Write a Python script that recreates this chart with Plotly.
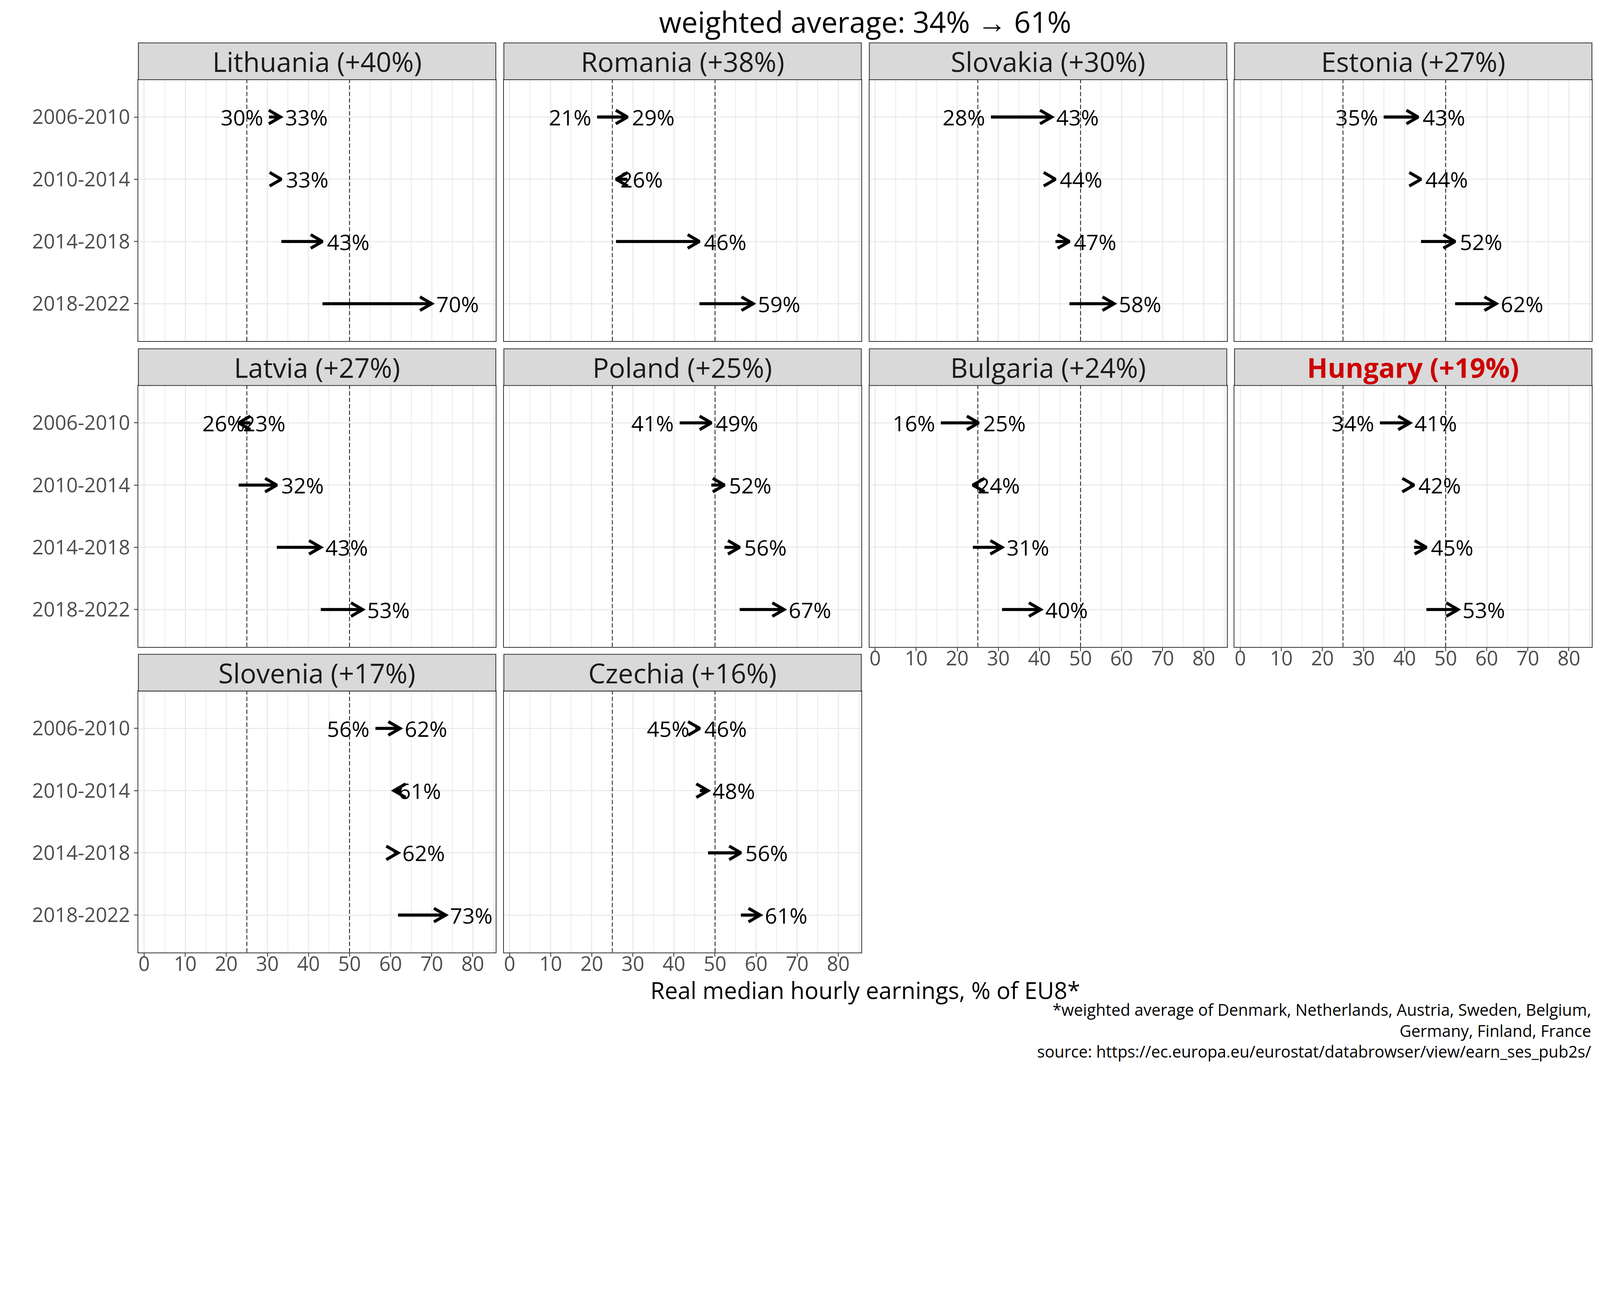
import math
import plotly.graph_objects as go

# ---------------- data ----------------
COUNTRIES = ["Lithuania", "Romania", "Slovakia", "Estonia", "Latvia",
             "Poland", "Bulgaria", "Hungary", "Slovenia", "Czechia"]
PERIODS = ["2006-2010", "2010-2014", "2014-2018", "2018-2022"]
# real median hourly earnings, % of EU8, at 2006, 2010, 2014, 2018, 2022
V2006 = [30.4, 21.3, 28.2, 34.9, 25.9, 41.4, 16.0, 34.0, 56.3, 45.2]
V2010 = [33.2, 28.7, 43.0, 43.3, 23.0, 49.1, 25.2, 41.3, 62.3, 46.3]
V2014 = [33.4, 25.9, 43.9, 44.0, 32.3, 52.3, 23.8, 42.3, 60.8, 48.3]
V2018 = [43.4, 46.2, 47.3, 52.3, 43.0, 56.0, 30.9, 45.3, 61.8, 56.3]
V2022 = [70.0, 59.3, 58.2, 62.3, 53.2, 66.8, 40.3, 53.0, 73.4, 61.0]
HIGHLIGHT = "Hungary"
REF_LINES = [25, 50]
X_TICKS = [0, 10, 20, 30, 40, 50, 60, 70, 80]
TITLE = "weighted average: 34% → 61%"
X_TITLE = "Real median hourly earnings, % of EU8*"
CAPTION = ["*weighted average of Denmark, Netherlands, Austria, Sweden, Belgium,",
           "Germany, Finland, France",
           "source: https://ec.europa.eu/eurostat/databrowser/view/earn_ses_pub2s/"]

# ---------------- geometry (in screenshot pixels) ----------------
DPR = 4960 / 4096          # device pixels per CSS pixel of the browser window
OFF = 8                    # default body margin (CSS px)
FIG_W, FIG_H = 4080, 2715  # figure size in CSS px

PANEL_W, PANEL_H, STRIP_H = 1108, 810, 114
COL_LEFT = [429, 1562, 2695, 3827]
ROW_TOP = [247, 1195, 2142]
NCOL = 4
X_RANGE = [-1.4, 85.6]
Y_RANGE = [3.6, -0.6]
FONT = "Open Sans"
GRID = "#EBEBEB"
BORDER = "#333333"


def fx(p):
    return (p / DPR - OFF) / FIG_W


def fy(p):
    return 1 - (p / DPR - OFF) / FIG_H


def s(v):
    """screenshot px -> css px"""
    return v / DPR


px_x = PANEL_W / (X_RANGE[1] - X_RANGE[0])
px_y = PANEL_H / abs(Y_RANGE[0] - Y_RANGE[1])
HEAD_LEN, HEAD_ANG = 42, math.radians(30)
HDX = HEAD_LEN * math.cos(HEAD_ANG) / px_x
HDY = HEAD_LEN * math.sin(HEAD_ANG) / px_y

fig = go.Figure()
shapes, annotations = [], []
n_panels = len(COUNTRIES)
dash = f"{s(13):.1f}px,{s(7):.1f}px"

for k, country in enumerate(COUNTRIES):
    r, c = divmod(k, NCOL)
    n = k + 1
    xa = "x" if n == 1 else f"x{n}"
    ya = "y" if n == 1 else f"y{n}"
    left, top = COL_LEFT[c], ROW_TOP[r]
    is_bottom = k + NCOL >= n_panels
    is_left = c == 0

    vals = [V2006[k], V2010[k], V2014[k], V2018[k], V2022[k]]
    starts, ends = vals[:-1], vals[1:]

    for ref in REF_LINES:
        fig.add_trace(go.Scatter(x=[ref, ref], y=[Y_RANGE[0], Y_RANGE[1]], mode="lines",
                                 line=dict(color="#1A1A1A", width=s(2.5), dash=dash),
                                 xaxis=xa, yaxis=ya, hoverinfo="skip", showlegend=False))

    ax_, ay_ = [], []
    for i, (st, e) in enumerate(zip(starts, ends)):
        sgn = 1 if e >= st else -1
        ax_ += [st, e, None, e - sgn * HDX, e, e - sgn * HDX, None]
        ay_ += [i, i, None, i - HDY, i, i + HDY, None]
    fig.add_trace(go.Scatter(x=ax_, y=ay_, mode="lines",
                             line=dict(color="black", width=s(9.5)),
                             xaxis=xa, yaxis=ya, hoverinfo="skip", showlegend=False))

    annotations.append(dict(x=starts[0] - 1.2, y=0, xref=xa, yref=ya, text=f"{starts[0]:.0f}%",
                            showarrow=False, xanchor="right", yanchor="middle",
                            font=dict(family=FONT, size=s(67), color="black")))
    for i, e in enumerate(ends):
        annotations.append(dict(x=e + 0.9, y=i, xref=xa, yref=ya, text=f"{e:.0f}%",
                                showarrow=False, xanchor="left", yanchor="middle",
                                font=dict(family=FONT, size=s(67), color="black")))

    fig.update_layout({
        ("xaxis" if n == 1 else f"xaxis{n}"): dict(
            domain=[fx(left), fx(left + PANEL_W)], anchor=ya, range=X_RANGE,
            tickmode="array", tickvals=X_TICKS, ticktext=[str(t) for t in X_TICKS],
            showgrid=True, gridcolor=GRID, gridwidth=s(4),
            minor=dict(dtick=5, tick0=5, showgrid=True, gridcolor=GRID, gridwidth=s(2)),
            zeroline=False, showline=True, mirror=True, linecolor=BORDER, linewidth=s(2.5),
            ticks="outside" if is_bottom else "", ticklen=s(11), tickwidth=s(2.5), tickcolor=BORDER,
            showticklabels=is_bottom, ticklabelstandoff=-25,
            tickfont=dict(family=FONT, size=s(62), color="#4D4D4D")),
        ("yaxis" if n == 1 else f"yaxis{n}"): dict(
            domain=[fy(top + PANEL_H), fy(top)], anchor=xa, range=Y_RANGE,
            tickmode="array", tickvals=list(range(len(PERIODS))), ticktext=PERIODS,
            showgrid=True, gridcolor=GRID, gridwidth=s(4),
            zeroline=False, showline=True, mirror=True, linecolor=BORDER, linewidth=s(2.5),
            ticks="outside" if is_left else "", ticklen=s(11), tickwidth=s(2.5), tickcolor=BORDER,
            showticklabels=is_left,
            tickfont=dict(family=FONT, size=s(62), color="#4D4D4D")),
    })

    shapes.append(dict(type="rect", xref="paper", yref="paper",
                       x0=fx(left), x1=fx(left + PANEL_W),
                       y0=fy(top), y1=fy(top - STRIP_H),
                       fillcolor="#D9D9D9", line=dict(color=BORDER, width=s(2.5))))
    change = V2022[k] - V2006[k]
    label = f"{country} (+{change:.0f}%)"
    if country == HIGHLIGHT:
        label = f"<b>{label}</b>"
        scol = "#CD0000"
    else:
        scol = "#1A1A1A"
    annotations.append(dict(x=fx(left + PANEL_W / 2), y=fy(top - STRIP_H / 2),
                            xref="paper", yref="paper", text=label, showarrow=False,
                            xanchor="center", yanchor="middle",
                            font=dict(family=FONT, size=s(84), color=scol)))

center_x = fx((COL_LEFT[0] + COL_LEFT[-1] + PANEL_W) / 2)
annotations.append(dict(x=center_x, y=fy(67), xref="paper", yref="paper", text=TITLE,
                        showarrow=False, xanchor="center", yanchor="middle",
                        font=dict(family=FONT, size=s(90), color="black")))
annotations.append(dict(x=center_x, y=fy(3068), xref="paper", yref="paper", text=X_TITLE,
                        showarrow=False, xanchor="center", yanchor="middle",
                        font=dict(family=FONT, size=s(72), color="black")))
annotations.append(dict(x=fx(COL_LEFT[-1] + PANEL_W), y=fy(3194), xref="paper", yref="paper",
                        text="<br>".join(CAPTION), showarrow=False, align="right",
                        xanchor="right", yanchor="middle",
                        font=dict(family=FONT, size=s(50), color="black")))

fig.update_layout(width=FIG_W, height=FIG_H, autosize=False,
                  margin=dict(l=0, r=0, t=0, b=0),
                  paper_bgcolor="white", plot_bgcolor="white",
                  font=dict(family=FONT),
                  shapes=shapes, annotations=annotations, showlegend=False)

fig.write_html("out.html")
